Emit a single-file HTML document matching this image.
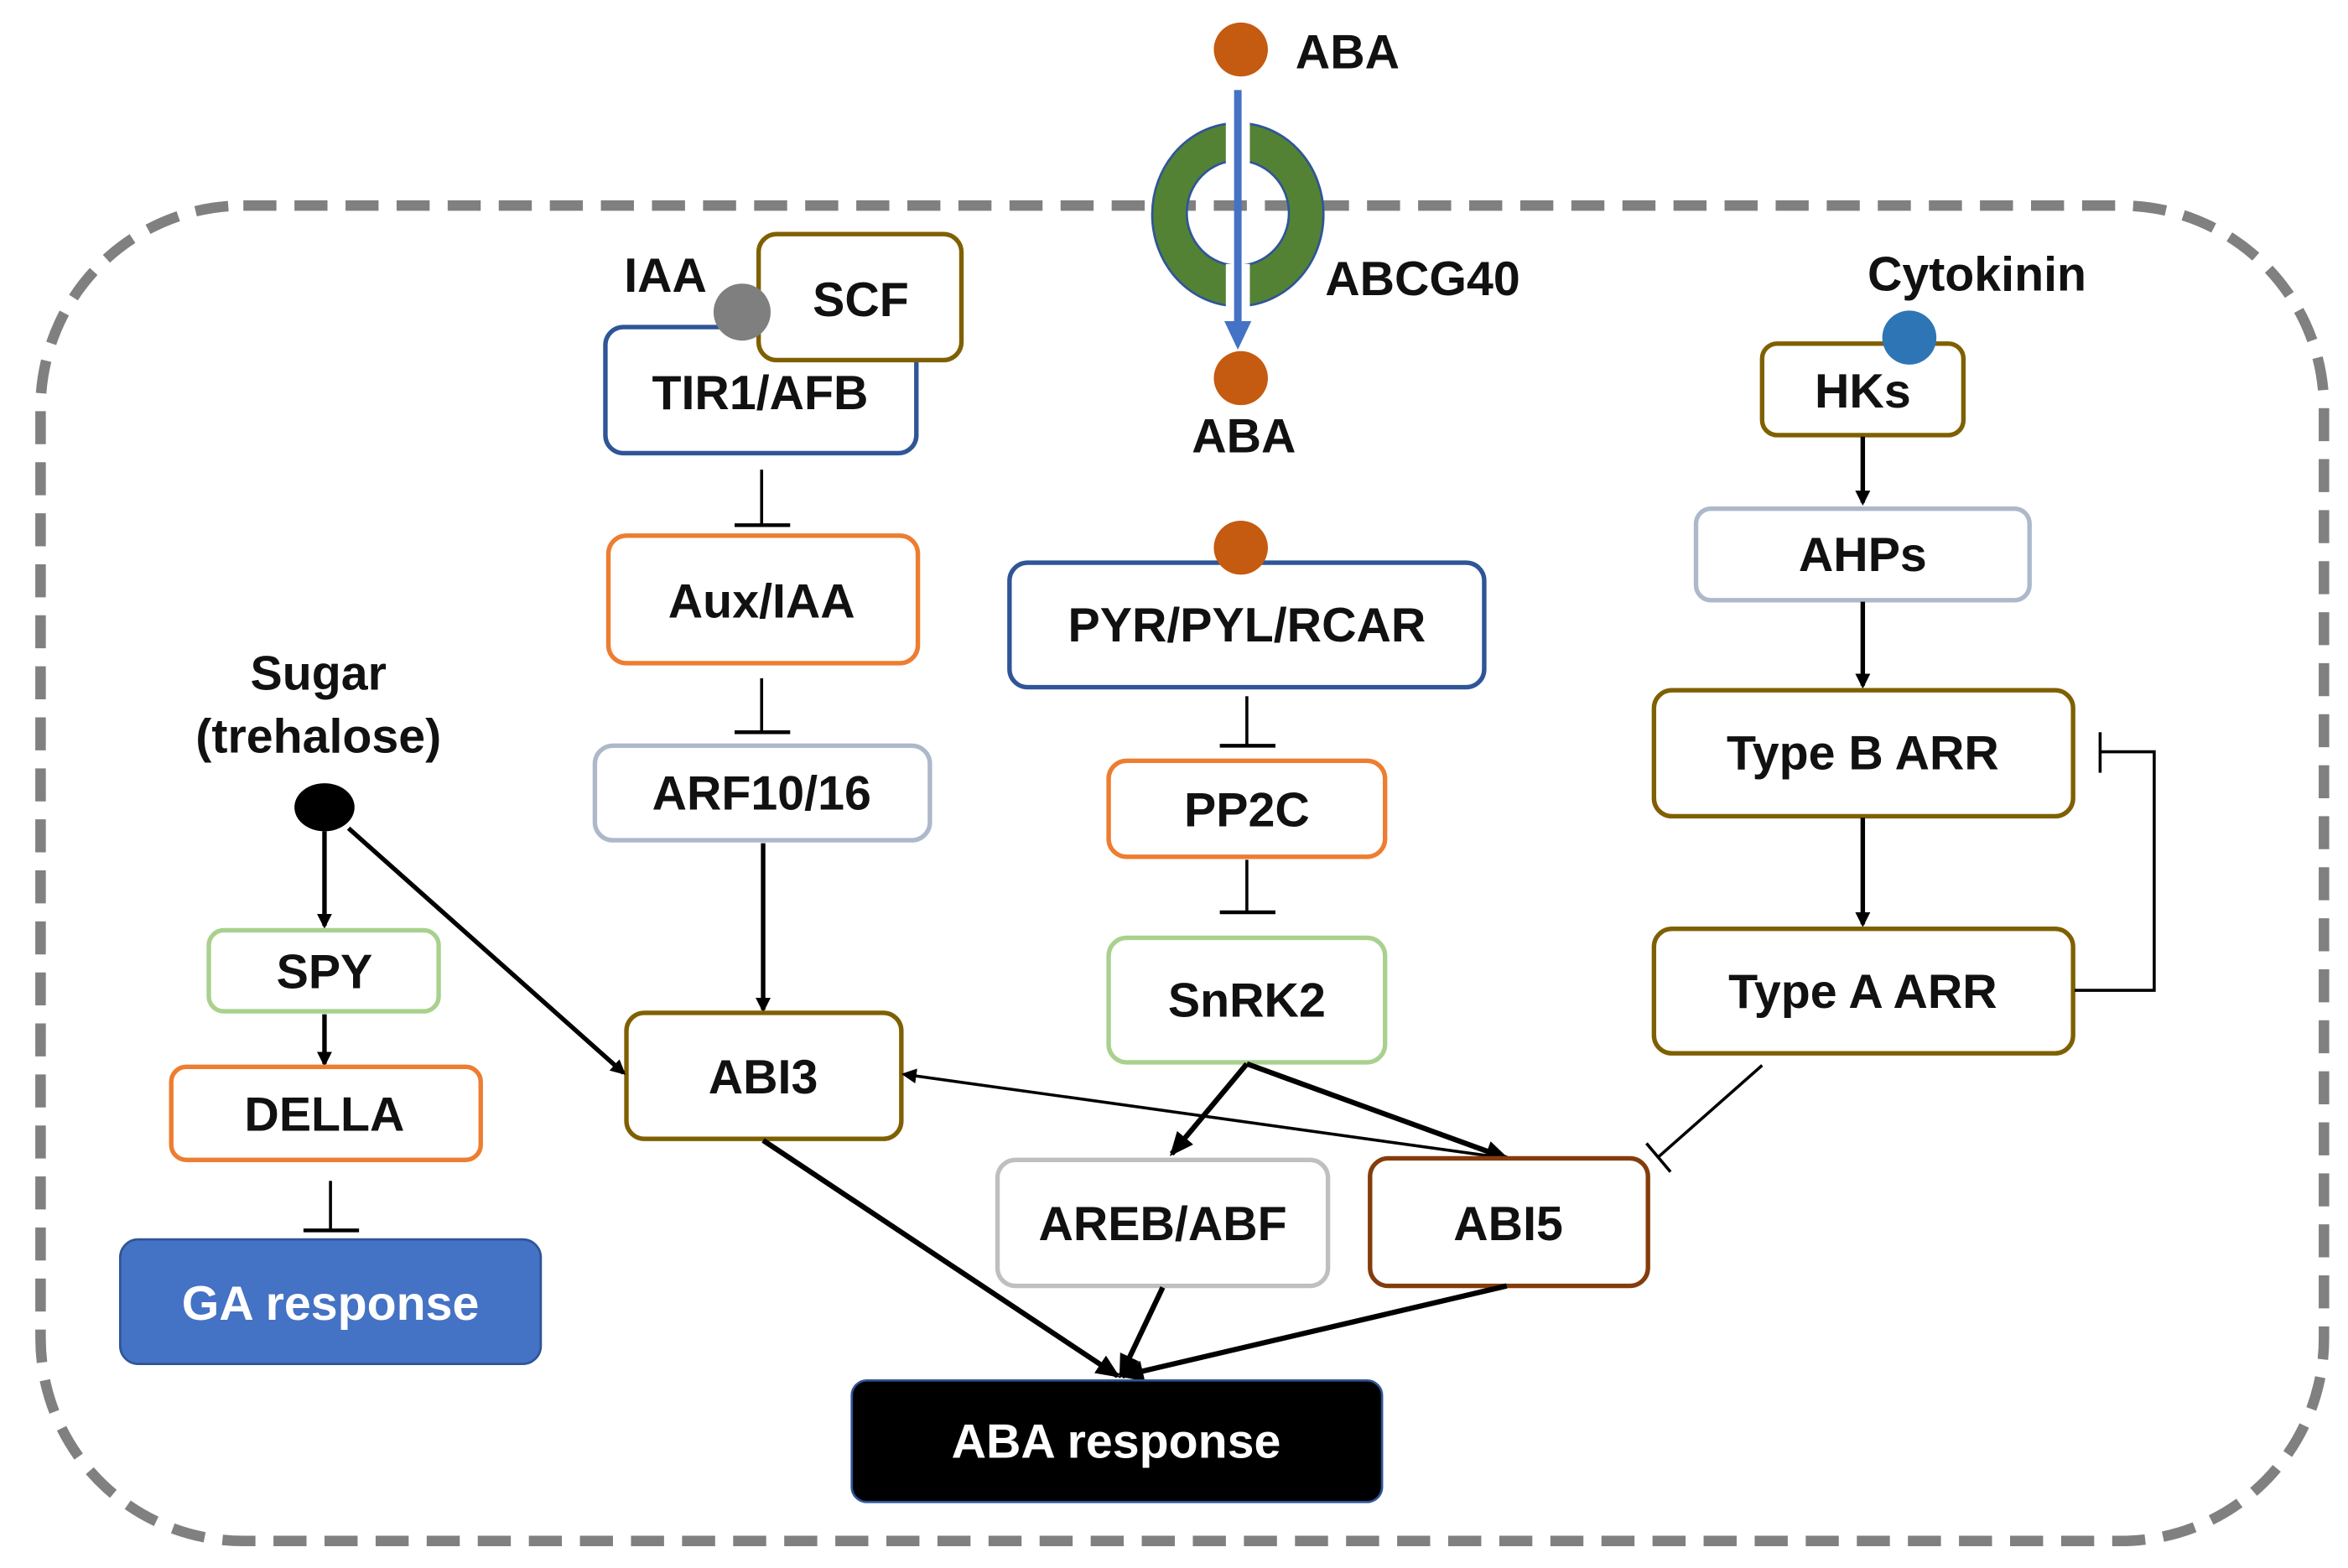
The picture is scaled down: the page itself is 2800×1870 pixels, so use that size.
<!DOCTYPE html>
<html><head><meta charset="utf-8"><style>
html,body{margin:0;padding:0;background:#fff;}
svg{display:block;}
text{font-family:"Liberation Sans",sans-serif;font-weight:bold;font-size:32px;text-anchor:middle;dominant-baseline:central;fill:#111;}
</style></head><body>
<svg width="2800" height="1870" viewBox="0 0 1563 1045" preserveAspectRatio="none" xmlns="http://www.w3.org/2000/svg">
<defs>
<marker id="ah" markerWidth="10" markerHeight="10" refX="8" refY="5" orient="auto" markerUnits="userSpaceOnUse" viewBox="0 0 10 10"><path d="M0,0 L10,5 L0,10 z" fill="#000"/></marker>
<marker id="ahs" markerWidth="16" markerHeight="14" refX="14" refY="7" orient="auto" markerUnits="userSpaceOnUse" viewBox="0 0 16 14"><path d="M0,0 L16,7 L0,14 z" fill="#000"/></marker>
</defs>
<!-- cell membrane -->
<rect x="27" y="137" width="1520" height="890" rx="135" ry="135" fill="none" stroke="#808080" stroke-width="7" stroke-dasharray="22,12"/>
<!-- transporter -->
<path d="M767,143 a57,61 0 1,0 114,0 a57,61 0 1,0 -114,0 Z M790,142 a34,35 0 1,0 68,0 a34,35 0 1,0 -68,0 Z" fill="#548235" fill-rule="evenodd" stroke="#2f5597" stroke-width="1.5"/>
<rect x="816" y="78" width="16" height="31" fill="#fff"/>
<rect x="816" y="176" width="16" height="31" fill="#fff"/>
<line x1="824" y1="60" x2="824" y2="218" stroke="#4472c4" stroke-width="5"/>
<path d="M815,214 L833,214 L824,233 Z" fill="#4472c4"/>
<circle cx="826" cy="33" r="18" fill="#c55a11"/>
<text x="897" y="35">ABA</text>
<circle cx="826" cy="252" r="18" fill="#c55a11"/>
<text x="828" y="291">ABA</text>
<text x="947" y="186">ABCG40</text>

<!-- auxin -->
<rect x="403" y="218" width="207" height="84" rx="12" fill="#fff" stroke="#2f5597" stroke-width="3"/>
<text x="506" y="262">TIR1/AFB</text>
<rect x="505" y="156" width="135" height="84" rx="12" fill="#fff" stroke="#7f6000" stroke-width="3"/>
<text x="573" y="200">SCF</text>
<circle cx="494" cy="208" r="19" fill="#7f7f7f"/>
<text x="443" y="184">IAA</text>
<line x1="507" y1="313" x2="507" y2="350" stroke="#000" stroke-width="2"/>
<line x1="489" y1="350" x2="526" y2="350" stroke="#000" stroke-width="2.5"/>
<rect x="405" y="357" width="206" height="85" rx="12" fill="#fff" stroke="#ed7d31" stroke-width="3"/>
<text x="507" y="401">Aux/IAA</text>
<line x1="507" y1="452" x2="507" y2="488" stroke="#000" stroke-width="2"/>
<line x1="489" y1="488" x2="526" y2="488" stroke="#000" stroke-width="2.5"/>
<rect x="396" y="497" width="223" height="63" rx="12" fill="#fff" stroke="#adb9ca" stroke-width="3"/>
<text x="507" y="529">ARF10/16</text>
<line x1="508" y1="562" x2="508" y2="673" stroke="#000" stroke-width="3" marker-end="url(#ah)"/>
<rect x="417" y="675" width="183" height="84" rx="12" fill="#fff" stroke="#7f6000" stroke-width="3"/>
<text x="508" y="718">ABI3</text>

<!-- sugar -->
<text x="212" y="449">Sugar</text>
<text x="212" y="491">(trehalose)</text>
<ellipse cx="216" cy="538" rx="20" ry="16" fill="#000"/>
<line x1="216" y1="554" x2="216" y2="617" stroke="#000" stroke-width="3" marker-end="url(#ah)"/>
<line x1="232" y1="552" x2="415" y2="715" stroke="#000" stroke-width="3" marker-end="url(#ah)"/>
<rect x="139" y="620" width="153" height="54" rx="10" fill="#fff" stroke="#a9d18e" stroke-width="3"/>
<text x="216" y="648">SPY</text>
<line x1="216" y1="676" x2="216" y2="709" stroke="#000" stroke-width="3" marker-end="url(#ah)"/>
<rect x="114" y="711" width="206" height="62" rx="10" fill="#fff" stroke="#ed7d31" stroke-width="3"/>
<text x="216" y="743">DELLA</text>
<line x1="220" y1="787" x2="220" y2="820" stroke="#000" stroke-width="2"/>
<line x1="202" y1="820" x2="239" y2="820" stroke="#000" stroke-width="2.5"/>
<rect x="80" y="826" width="280" height="83" rx="12" fill="#4472c4" stroke="#2f5597" stroke-width="1.5"/>
<text x="220" y="869" style="fill:#fff">GA response</text>

<!-- ABA pathway -->
<rect x="672" y="375" width="316" height="83" rx="12" fill="#fff" stroke="#2f5597" stroke-width="3"/>
<circle cx="826" cy="365" r="18" fill="#c55a11"/>
<text x="830" y="417">PYR/PYL/RCAR</text>
<line x1="830" y1="464" x2="830" y2="497" stroke="#000" stroke-width="2"/>
<line x1="812" y1="497" x2="849" y2="497" stroke="#000" stroke-width="2.5"/>
<rect x="738" y="507" width="184" height="64" rx="12" fill="#fff" stroke="#ed7d31" stroke-width="3"/>
<text x="830" y="540">PP2C</text>
<line x1="830" y1="573" x2="830" y2="608" stroke="#000" stroke-width="2"/>
<line x1="812" y1="608" x2="849" y2="608" stroke="#000" stroke-width="2.5"/>
<rect x="738" y="625" width="184" height="83" rx="12" fill="#fff" stroke="#a9d18e" stroke-width="3"/>
<text x="830" y="667">SnRK2</text>
<line x1="830" y1="709" x2="780" y2="769" stroke="#000" stroke-width="3.5" marker-end="url(#ahs)"/>
<line x1="830" y1="709" x2="1003" y2="772" stroke="#000" stroke-width="3.5" marker-end="url(#ahs)"/>
<line x1="1003" y1="772" x2="602" y2="716" stroke="#000" stroke-width="2" marker-end="url(#ah)"/>
<rect x="664" y="773" width="220" height="84" rx="12" fill="#fff" stroke="#bfbfbf" stroke-width="3"/>
<text x="774" y="816">AREB/ABF</text>
<rect x="912" y="772" width="185" height="85" rx="12" fill="#fff" stroke="#843c0c" stroke-width="3"/>
<text x="1004" y="816">ABI5</text>
<line x1="508" y1="760" x2="744" y2="917" stroke="#000" stroke-width="3.5" marker-end="url(#ahs)"/>
<line x1="774" y1="858" x2="746" y2="917" stroke="#000" stroke-width="3.5" marker-end="url(#ahs)"/>
<line x1="1003" y1="857" x2="747" y2="917" stroke="#000" stroke-width="3.5" marker-end="url(#ahs)"/>
<rect x="567" y="920" width="353" height="81" rx="10" fill="#000" stroke="#2f5597" stroke-width="1.5"/>
<text x="743" y="961" style="fill:#fff">ABA response</text>

<!-- cytokinin -->
<text x="1316" y="183">Cytokinin</text>
<rect x="1173" y="229" width="134" height="61" rx="10" fill="#fff" stroke="#7f6000" stroke-width="3"/>
<circle cx="1271" cy="225" r="18" fill="#2e75b6"/>
<text x="1240" y="261">HKs</text>
<line x1="1240" y1="291" x2="1240" y2="335" stroke="#000" stroke-width="3" marker-end="url(#ah)"/>
<rect x="1129" y="339" width="222" height="61" rx="10" fill="#fff" stroke="#adb9ca" stroke-width="3"/>
<text x="1240" y="370">AHPs</text>
<line x1="1240" y1="401" x2="1240" y2="457" stroke="#000" stroke-width="3" marker-end="url(#ah)"/>
<rect x="1101" y="460" width="279" height="84" rx="12" fill="#fff" stroke="#7f6000" stroke-width="3"/>
<text x="1240" y="502">Type B ARR</text>
<line x1="1240" y1="545" x2="1240" y2="616" stroke="#000" stroke-width="3" marker-end="url(#ah)"/>
<rect x="1101" y="619" width="279" height="83" rx="12" fill="#fff" stroke="#7f6000" stroke-width="3"/>
<text x="1240" y="661">Type A ARR</text>
<polyline points="1381,660 1434,660 1434,501 1398,501" fill="none" stroke="#000" stroke-width="2"/>
<line x1="1398" y1="488" x2="1398" y2="515" stroke="#000" stroke-width="2"/>
<line x1="1173" y1="710" x2="1104" y2="771" stroke="#000" stroke-width="2"/>
<line x1="1096" y1="762" x2="1112" y2="781" stroke="#000" stroke-width="2"/>
</svg>
</body></html>
